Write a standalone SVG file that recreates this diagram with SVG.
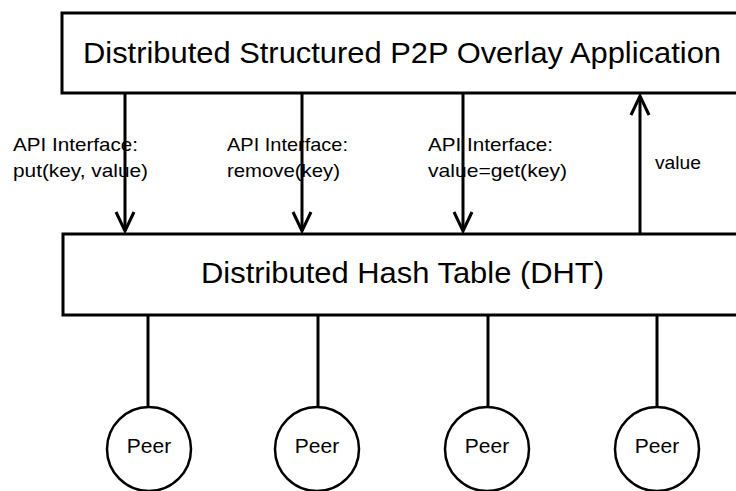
<svg xmlns="http://www.w3.org/2000/svg" width="736" height="491" viewBox="0 0 736 491">
<style>
.box{fill:#fff;stroke:#000;stroke-width:3}
.ln{stroke:#000;stroke-width:3;fill:none}
.head{stroke:#000;stroke-width:3;fill:none;stroke-linejoin:miter}
.peer{fill:#fff;stroke:#000;stroke-width:2.5}
text{font-family:"Liberation Sans",Arial,sans-serif;fill:#000}
.big{font-size:29px}
.lbl{font-size:18.5px}
.pt{font-size:21px}
</style>
<rect width="736" height="491" fill="#fff"/>
<g id="app">
<rect class="box" x="62" y="13" width="700" height="80"/>
<text class="big" x="83" y="63" textLength="638" lengthAdjust="spacingAndGlyphs">Distributed Structured P2P Overlay Application</text>
</g>
<g id="dht">
<rect class="box" x="63" y="234" width="700" height="81"/>
<text class="big" x="201" y="283" textLength="403" lengthAdjust="spacingAndGlyphs">Distributed Hash Table (DHT)</text>
</g>
<g id="labels">
<text class="lbl" x="13" y="151" textLength="125" lengthAdjust="spacingAndGlyphs">API Interface:</text>
<text class="lbl" x="13" y="177" textLength="135" lengthAdjust="spacingAndGlyphs">put(key, value)</text>
<text class="lbl" x="227" y="151" textLength="121" lengthAdjust="spacingAndGlyphs">API Interface:</text>
<text class="lbl" x="227" y="177" textLength="113" lengthAdjust="spacingAndGlyphs">remove(key)</text>
<text class="lbl" x="428" y="151" textLength="125" lengthAdjust="spacingAndGlyphs">API Interface:</text>
<text class="lbl" x="428" y="177" textLength="139" lengthAdjust="spacingAndGlyphs">value=get(key)</text>
<text class="lbl" x="655" y="169" textLength="46" lengthAdjust="spacingAndGlyphs">value</text>
</g>
<g id="connectors">
<line class="ln" x1="125" y1="93" x2="125" y2="231"/>
<polyline class="head" points="116,212 125,231 134,212"/>
<line class="ln" x1="302" y1="93" x2="302" y2="231"/>
<polyline class="head" points="293,212 302,231 311,212"/>
<line class="ln" x1="463" y1="93" x2="463" y2="231"/>
<polyline class="head" points="454,212 463,231 472,212"/>
<line class="ln" x1="640" y1="234" x2="640" y2="96"/>
<polyline class="head" points="631,115 640,96 649,115"/>
<line class="ln" x1="148" y1="315" x2="148" y2="407"/>
<line class="ln" x1="318" y1="315" x2="318" y2="407"/>
<line class="ln" x1="488" y1="315" x2="488" y2="407"/>
<line class="ln" x1="657" y1="315" x2="657" y2="407"/>
</g>
<g id="peer1">
<circle class="peer" cx="149" cy="449" r="42"/>
<text class="pt" x="149" y="453" text-anchor="middle">Peer</text>
</g>
<g id="peer2">
<circle class="peer" cx="317" cy="449" r="42"/>
<text class="pt" x="317" y="453" text-anchor="middle">Peer</text>
</g>
<g id="peer3">
<circle class="peer" cx="487" cy="449" r="42"/>
<text class="pt" x="487" y="453" text-anchor="middle">Peer</text>
</g>
<g id="peer4">
<circle class="peer" cx="657" cy="449" r="42"/>
<text class="pt" x="657" y="453" text-anchor="middle">Peer</text>
</g>
</svg>
